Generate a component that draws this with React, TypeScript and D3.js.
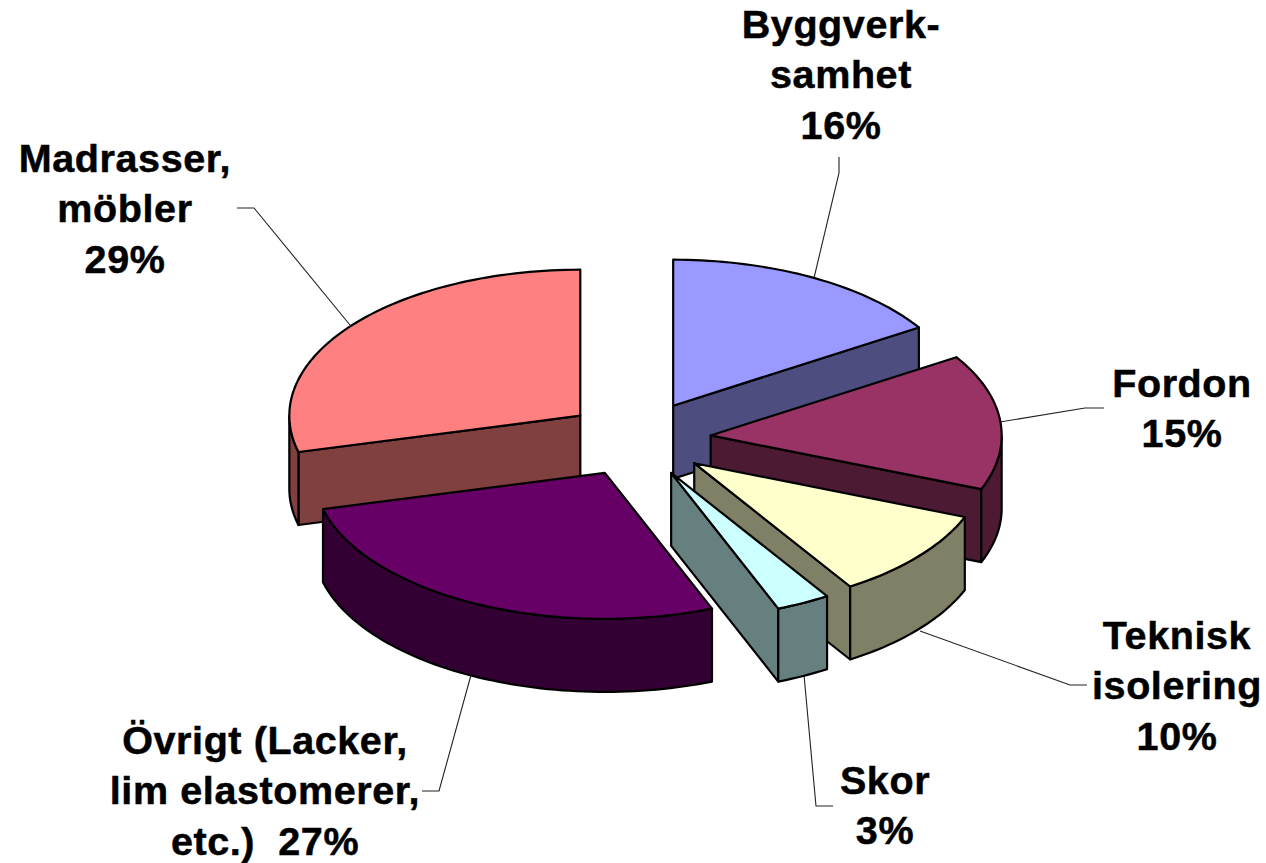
import React from "react";
import * as d3 from "d3";

const categories = ["Byggverksamhet", "Fordon", "Teknisk isolering", "Skor", "Övrigt", "Madrasser, möbler"];
const shares = [16, 15, 10, 3, 27, 29];
const topColors = ["#9999FF", "#993366", "#FFFFCC", "#CCFFFF", "#660066", "#FF8080"];
const wallColors = ["#4D4D80", "#4D1A33", "#808066", "#668080", "#330033", "#804040"];
const labelLines = [
  ["Byggverk-", "samhet", "16%"],
  ["Fordon", "15%"],
  ["Teknisk", "isolering", "10%"],
  ["Skor", "3%"],
  ["Övrigt (Lacker,", "lim elastomerer,", "etc.)  27%"],
  ["Madrasser,", "möbler", "29%"],
];
const labelCenterX = [841, 1182, 1177, 885, 265, 125];
const labelFirstBaseline = [38, 397, 649, 794, 754, 172];
const leaders: [number, number][][] = [
  [[814, 278], [839, 173], [839, 157]],
  [[1000, 422], [1085, 408], [1104, 408]],
  [[920, 631], [1070, 685], [1087, 685]],
  [[804, 675], [816, 806], [833, 806]],
  [[471, 675], [439, 791], [422, 791]],
  [[350, 325], [254, 208], [237, 208]],
];
const drawOrder = [0, 5, 1, 2, 3, 4];

const CX = 638, CY = 439, RX = 291, RY = 146, DEPTH = 73, EX = 73, EY = 38;

const pie = d3.pie<number>().sort(null).value((d) => d);
const arcs = pie(shares);
const line = d3.line();

function slice(i: number) {
  const a = arcs[i];
  const mid = (a.startAngle + a.endAngle) / 2;
  const ax = CX + EX * Math.sin(mid);
  const ay = CY - EY * Math.cos(mid);
  const pt = (t: number): [number, number] => [ax + RX * Math.sin(t), ay - RY * Math.cos(t)];
  const down = (p: [number, number]): [number, number] => [p[0], p[1] + DEPTH];
  const n = Math.max(2, Math.ceil((a.endAngle - a.startAngle) * 40));
  const rim = d3.range(n + 1).map((k) => pt(a.startAngle + ((a.endAngle - a.startAngle) * k) / n));
  const apex: [number, number] = [ax, ay];
  const top = line([apex, ...rim])! + "Z";
  const front = rim.filter((_, k) => {
    const t = a.startAngle + ((a.endAngle - a.startAngle) * k) / n;
    return t >= Math.PI / 2 && t <= (3 * Math.PI) / 2;
  });
  const walls: string[] = [];
  if (front.length > 1) walls.push(line([...front, ...front.map(down).reverse()])! + "Z");
  const start = rim[0], end = rim[rim.length - 1];
  if (a.startAngle > Math.PI) {
    walls.unshift(line([apex, start, down(start), down(apex)])! + "Z");
  }
  if (a.endAngle < Math.PI && a.endAngle > 0) {
    walls.unshift(line([apex, end, down(end), down(apex)])! + "Z");
  }
  return { top, walls };
}

export default function App() {
  return (
    <svg
      width={1266}
      height={863}
      viewBox="0 0 1266 863"
      style={{ position: "absolute", left: 0, top: 0, background: "#fff" }}
    >
      {leaders.map((pts, i) => (
        <path key={categories[i] + "-leader"} d={line(pts)!} fill="none" stroke="#222" strokeWidth={1.1} />
      ))}
      {drawOrder.map((i) => {
        const s = slice(i);
        return (
          <g key={categories[i]} stroke="#000" strokeWidth={2.2} strokeLinejoin="round">
            {s.walls.map((d, k) => (
              <path key={k} d={d} fill={wallColors[i]} />
            ))}
            <path d={s.top} fill={topColors[i]} />
          </g>
        );
      })}
      {labelLines.map((lines, i) => (
        <text
          key={categories[i] + "-label"}
          textAnchor="middle"
          fontFamily="'Liberation Sans', Arial, sans-serif"
          fontWeight="bold"
          fontSize={39.5}
          letterSpacing={0.6}
          fill="#000"
          stroke="#000"
          strokeWidth={0.5}
          xmlSpace="preserve"
        >
          {lines.map((t, k) => (
            <tspan key={k} x={labelCenterX[i]} y={labelFirstBaseline[i] + k * 50.3}>
              {t}
            </tspan>
          ))}
        </text>
      ))}
    </svg>
  );
}
